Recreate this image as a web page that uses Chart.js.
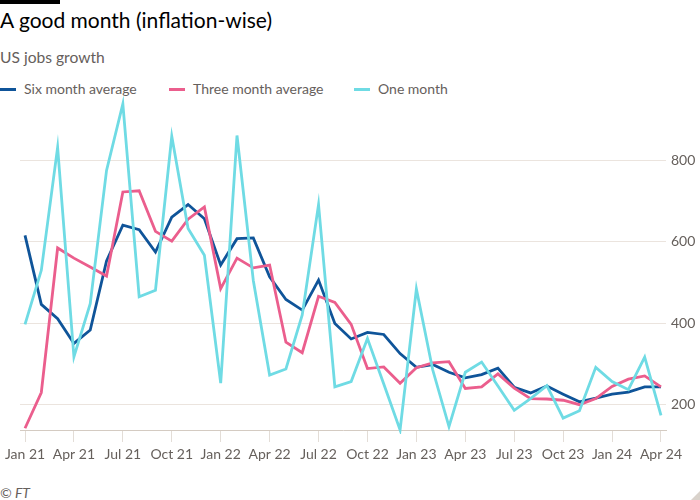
<!DOCTYPE html>
<html>
<head>
<meta charset="utf-8">
<script src="https://cdn.jsdelivr.net/npm/chart.js@4"></script>
<style>
  body { margin: 0; background: #fff; font-family: Lato, 'Noto Sans', sans-serif; }
  #wrap { position: relative; width: 700px; height: 500px; overflow: hidden; }
  #bar { position: absolute; left: 0; top: 0; width: 60px; height: 4px; background: #000; }
  #title { position: absolute; left: 0; top: 7px; font-size: 21px; color: #000; white-space: nowrap; }
  #subtitle { position: absolute; left: 0; top: 48px; font-size: 15.6px; color: #66605c; white-space: nowrap; }
  .leg { position: absolute; top: 80px; font-size: 14px; color: #66605c; white-space: nowrap; }
  .leg i { position: absolute; left: -24px; top: 8px; width: 16px; height: 3px; }
  #source { position: absolute; left: 0; top: 484px; font-size: 14px; font-style: italic; color: #66605c; }
  #box { position: absolute; left: 0; top: 95px; width: 700px; height: 380px; }
  #corner { position: absolute; right: 0; bottom: 0; width: 0; height: 0;
    border-left: 9px solid transparent; border-bottom: 9px solid #d9d2cb; }
</style>
</head>
<body>
<div id="wrap">
  <div id="bar"></div>
  <div id="title">A good month (inflation-wise)</div>
  <div id="subtitle">US jobs growth</div>
  <div id="legend"></div>
  <div id="box"><canvas id="chart"></canvas></div>
  <div id="source">© FT</div>
  <div id="corner"></div>
</div>
<script>
const months = ['Jan 21','Feb 21','Mar 21','Apr 21','May 21','Jun 21','Jul 21','Aug 21','Sep 21','Oct 21','Nov 21','Dec 21',
  'Jan 22','Feb 22','Mar 22','Apr 22','May 22','Jun 22','Jul 22','Aug 22','Sep 22','Oct 22','Nov 22','Dec 22',
  'Jan 23','Feb 23','Mar 23','Apr 23','May 23','Jun 23','Jul 23','Aug 23','Sep 23','Oct 23','Nov 23','Dec 23',
  'Jan 24','Feb 24','Mar 24','Apr 24'];

const sixMonth = [616, 446, 411, 350, 383, 553, 641, 630, 575, 661, 692, 657,
  543, 608, 610, 514, 458, 432, 506, 399, 361, 377, 372, 325,
  291, 298, 279, 265, 273, 289, 242, 228, 245, 225, 206, 215,
  225, 230, 243, 243];

const threeMonth = [141, 229, 585, 560, 538, 516, 723, 726, 626, 602, 656, 686,
  485, 560, 536, 543, 353, 327, 466, 451, 397, 288, 292, 252,
  290, 302, 305, 239, 243, 275, 240, 214, 213, 210, 199, 214,
  244, 262, 270, 243];

const oneMonth = [397, 530, 833, 317, 448, 776, 940, 465, 481, 860, 633, 567,
  252, 862, 505, 272, 287, 420, 692, 243, 256, 362, 250, 137,
  484, 285, 145, 279, 304, 245, 185, 214, 246, 166, 184, 291,
  256, 236, 316, 173];

const yTicks = [200, 400, 600, 800];

const seriesNames = ['Six month average', 'Three month average', 'One month'];
const seriesColors = ['#0f5499', '#eb5e8d', '#6fdbe4'];
const legendLeft = [24, 193, 378];

// legend
const legendEl = document.getElementById('legend');
seriesNames.forEach((name, i) => {
  const d = document.createElement('div');
  d.className = 'leg';
  d.style.left = legendLeft[i] + 'px';
  d.innerHTML = `<i style="background:${seriesColors[i]}"></i>${name}`;
  legendEl.appendChild(d);
});

const toPoints = arr => arr.map((v, i) => ({ x: i, y: v }));
const quarterly = months.map((m, i) => i).filter(i => i % 3 === 0);

// no extra room for tick labels, the layout is fixed
function noPadding(axis) {
  axis.paddingTop = 0;
  axis.paddingBottom = 0;
  axis.paddingLeft = 0;
  axis.paddingRight = 0;
}

const ctx = document.getElementById('chart').getContext('2d');
const chart = new Chart(ctx, {
  type: 'line',
  data: {
    datasets: [
      { label: seriesNames[2], data: toPoints(oneMonth), borderColor: seriesColors[2] },
      { label: seriesNames[1], data: toPoints(threeMonth), borderColor: seriesColors[1] },
      { label: seriesNames[0], data: toPoints(sixMonth), borderColor: seriesColors[0] }
    ]
  },
  options: {
    responsive: true,
    maintainAspectRatio: false,
    animation: false,
    layout: { padding: { left: 20, top: 0, right: 0, bottom: 0 } },
    elements: {
      line: { borderWidth: 2.8, tension: 0, borderJoinStyle: 'miter' },
      point: { radius: 0, hoverRadius: 0 }
    },
    datasets: { line: { clip: 4 } },
    plugins: { legend: { display: false }, tooltip: { enabled: false } },
    scales: {
      x: {
        type: 'linear',
        min: -0.307,
        max: 39.307,
        afterBuildTicks: axis => { axis.ticks = quarterly.map(v => ({ value: v })); },
        afterFit: axis => { axis.height = 45; noPadding(axis); },
        grid: {
          drawOnChartArea: false,
          tickLength: 12,
          color: '#e3ddd7'
        },
        border: { color: '#d4cbc2', width: 1 },
        ticks: {
          autoSkip: false,
          maxRotation: 0,
          padding: 4,
          color: '#66605c',
          font: { family: 'Lato', size: 14 },
          callback: v => months[v]
        }
      },
      y: {
        position: 'right',
        min: 136.7,
        max: 961.8,
        afterBuildTicks: axis => { axis.ticks = yTicks.map(v => ({ value: v })); },
        afterFit: axis => { axis.width = 34; noPadding(axis); },
        grid: { color: '#ebe4de', drawTicks: false },
        border: { display: false },
        ticks: {
          padding: 5,
          color: '#66605c',
          font: { family: 'Lato', size: 14 }
        }
      }
    }
  }
});
</script>
</body>
</html>
